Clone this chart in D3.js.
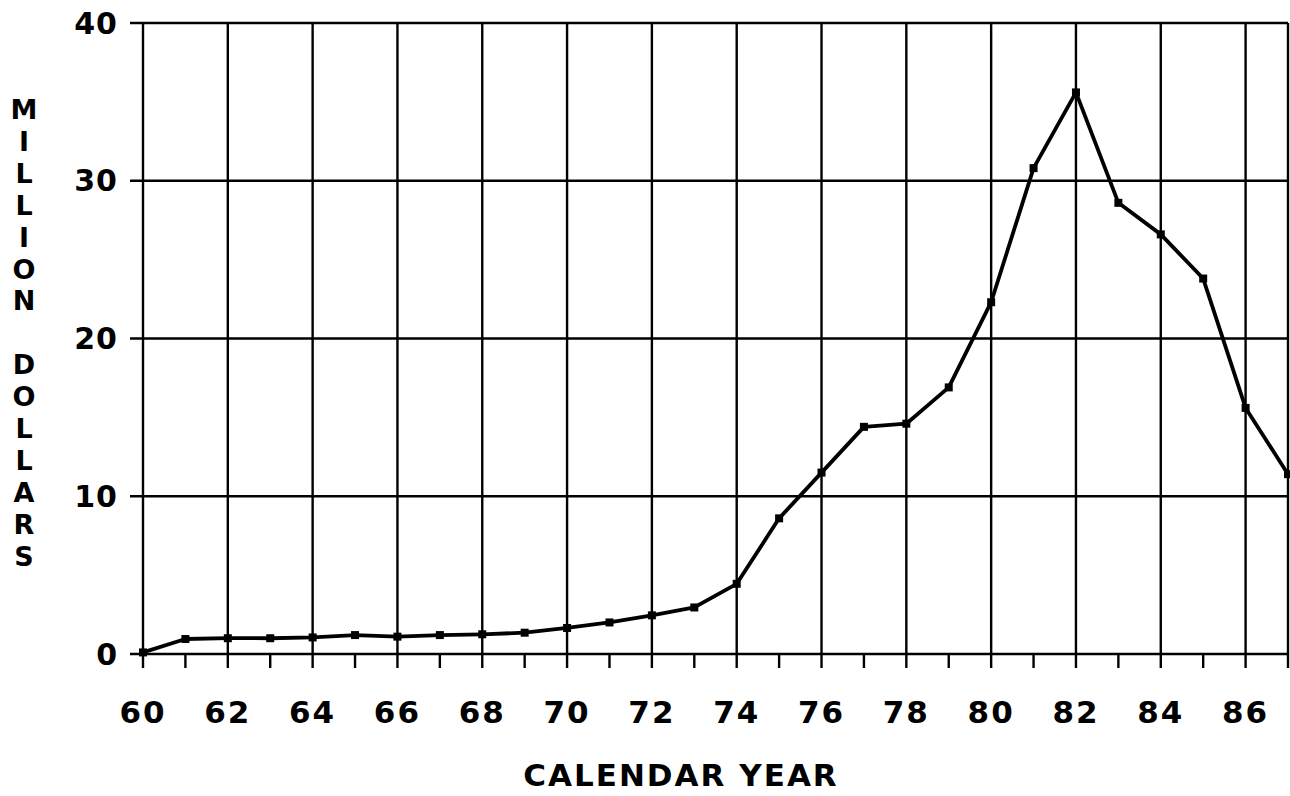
<!DOCTYPE html>
<html>
<head>
<meta charset="utf-8">
<script src="https://cdn.jsdelivr.net/npm/d3@7"></script>
<style>
  html, body { margin: 0; padding: 0; background: #fff; }
  svg { display: block; }
  text { font-family: "DejaVu Sans", "Liberation Sans", sans-serif; font-weight: bold; fill: #000; }
</style>
</head>
<body>
<svg id="chart" width="1290" height="796"></svg>
<script>
// Data
const years = [60,61,62,63,64,65,66,67,68,69,70,71,72,73,74,75,76,77,78,79,80,81,82,83,84,85,86,87];
const values = [0.1,0.95,1.0,1.0,1.05,1.2,1.1,1.2,1.25,1.35,1.65,2.0,2.45,2.95,4.45,8.6,11.5,14.4,14.6,16.9,22.3,30.8,35.6,28.6,26.6,23.8,15.6,11.4];
const xTickLabels = [60,62,64,66,68,70,72,74,76,78,80,82,84,86];
const yTickLabels = [0,10,20,30,40];
const xTitle = "CALENDAR YEAR";
const yTitle = "MILLION DOLLARS";

const svg = d3.select("#chart");
const mLeft = 143, mRight = 1288, mTop = 23, mBottom = 654;

const x = d3.scaleLinear().domain([60, 87]).range([mLeft, mRight]);
const y = d3.scaleLinear().domain([0, 40]).range([mBottom, mTop]);

// Horizontal grid lines (extend left as ticks)
svg.append("g").selectAll("line").data(yTickLabels).join("line")
  .attr("x1", mLeft - 13).attr("x2", mRight)
  .attr("y1", d => y(d)).attr("y2", d => y(d))
  .attr("stroke", "#000").attr("stroke-width", 2.4);

// Vertical grid lines at even years + right frame
const vLines = xTickLabels.concat([87]);
svg.append("g").selectAll("line").data(vLines).join("line")
  .attr("x1", d => x(d)).attr("x2", d => x(d))
  .attr("y1", mTop).attr("y2", mBottom)
  .attr("stroke", "#000").attr("stroke-width", 2.4);

// Tick marks every year below axis
svg.append("g").selectAll("line").data(d3.range(60, 88)).join("line")
  .attr("x1", d => x(d)).attr("x2", d => x(d))
  .attr("y1", mBottom).attr("y2", mBottom + 14)
  .attr("stroke", "#000").attr("stroke-width", 2.4);

// Y tick labels
svg.append("g").selectAll("text").data(yTickLabels).join("text")
  .attr("x", 118).attr("y", d => y(d))
  .attr("text-anchor", "end").attr("dominant-baseline", "central")
  .attr("font-size", 30).attr("letter-spacing", 1)
  .text(d => d);

// X tick labels
svg.append("g").selectAll("text").data(xTickLabels).join("text")
  .attr("x", d => x(d)).attr("y", 712)
  .attr("text-anchor", "middle").attr("dominant-baseline", "central")
  .attr("font-size", 31).attr("letter-spacing", 2)
  .text(d => d);

// X title
svg.append("text")
  .attr("x", 681).attr("y", 775)
  .attr("text-anchor", "middle").attr("dominant-baseline", "central")
  .attr("font-size", 31).attr("letter-spacing", 2)
  .text(xTitle);

// Y title: stacked letters
const chars = yTitle.split("");
svg.append("g").selectAll("text").data(chars).join("text")
  .attr("x", 24)
  .attr("y", (d, i) => 119 + i * 31.9)
  .attr("text-anchor", "middle")
  .attr("font-size", 27)
  .text(d => d === " " ? "\u00A0" : d);

// Data line
const line = d3.line().x((d, i) => x(years[i])).y(d => y(d));
svg.append("path").datum(values)
  .attr("d", line).attr("fill", "none")
  .attr("stroke", "#000").attr("stroke-width", 3.8).attr("stroke-linejoin", "round");

// Square markers
svg.append("g").selectAll("rect").data(values).join("rect")
  .attr("x", (d, i) => x(years[i]) - 4).attr("y", d => y(d) - 4)
  .attr("width", 8).attr("height", 8).attr("fill", "#000");
</script>
</body>
</html>
